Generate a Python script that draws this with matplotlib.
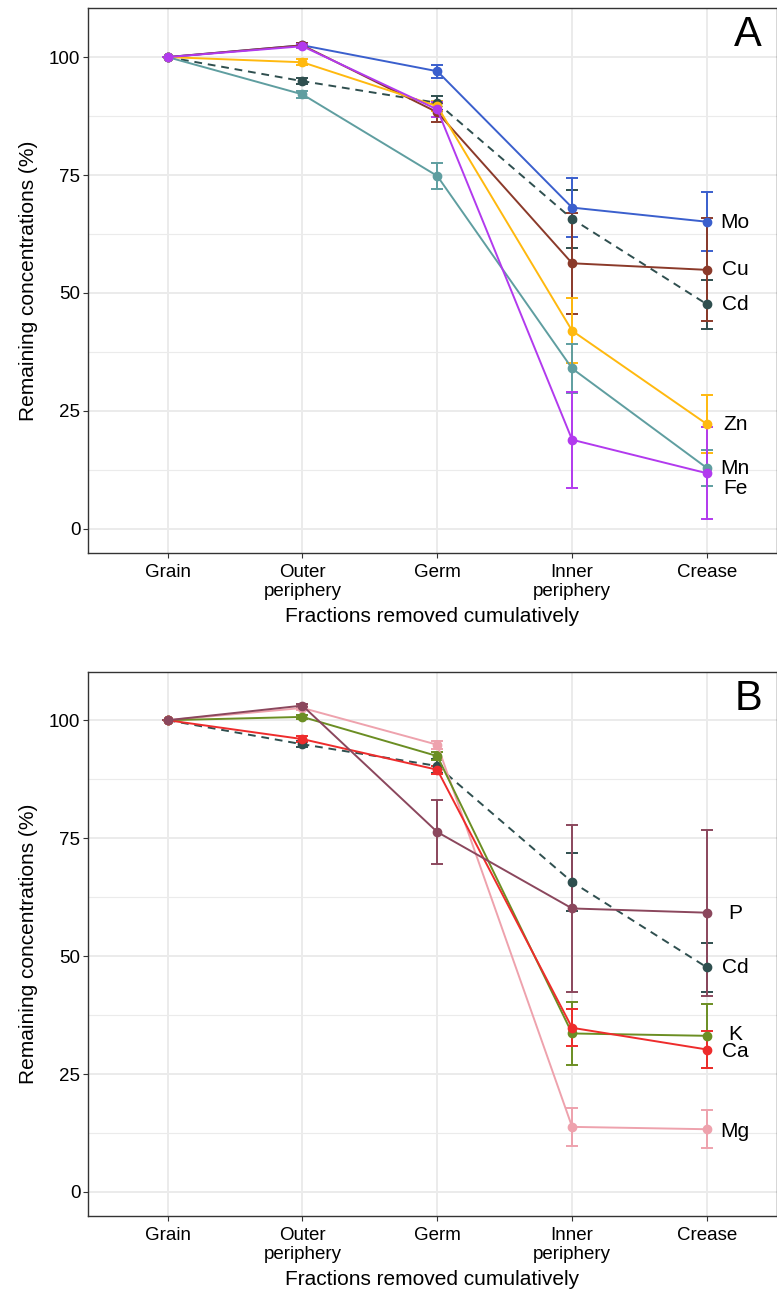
import numpy as np
import matplotlib.pyplot as plt

plt.rcParams['font.family'] = ['Liberation Sans', 'DejaVu Sans']

# Fractions (x categories)
fractions = ["Grain", "Outer\nperiphery", "Germ", "Inner\nperiphery", "Crease"]

# Panel A: micro elements (mean, error)
cd_mean = [100, 94.9, 90.3, 65.7, 47.6]
cd_err = [0, 0.6, 1.5, 6.1, 5.2]

mo_mean = [100, 102.5, 97.0, 68.1, 65.1]
mo_err = [0, 0.4, 1.4, 6.3, 6.2]
cu_mean = [100, 102.5, 88.3, 56.3, 54.9]
cu_err = [0, 0.4, 2.0, 10.7, 10.9]
zn_mean = [100, 98.9, 89.6, 42.0, 22.2]
zn_err = [0, 0.6, 1.0, 6.9, 6.2]
mn_mean = [100, 92.1, 74.8, 34.0, 12.9]
mn_err = [0, 0.8, 2.8, 5.1, 3.9]
fe_mean = [100, 102.3, 88.9, 18.9, 11.8]
fe_err = [0, 0.4, 1.5, 10.2, 9.7]

# Panel B: macro elements
p_mean = [100, 103.1, 76.3, 60.1, 59.2]
p_err = [0, 0.4, 6.8, 17.7, 17.6]
mg_mean = [100, 102.6, 94.8, 13.8, 13.3]
mg_err = [0, 0.4, 0.8, 4.0, 4.0]
k_mean = [100, 100.7, 92.4, 33.6, 33.1]
k_err = [0, 0.4, 0.8, 6.7, 6.8]
ca_mean = [100, 96.0, 89.5, 34.8, 30.2]
ca_err = [0, 0.7, 0.8, 3.9, 3.9]

# label y positions next to the crease points
labels_a = ["Mo", "Cu", "Cd", "Zn", "Mn", "Fe"]
labels_a_y = [65.0, 54.9, 47.5, 22.2, 12.7, 8.5]
labels_b = ["P", "Cd", "K", "Ca", "Mg"]
labels_b_y = [59.1, 47.5, 33.4, 29.8, 12.9]

colors = {
    "Cd": "#2F4F4F", "Mo": "#3A5FCD", "Cu": "#8B3A2A", "Zn": "#FFB90F",
    "Mn": "#5F9EA0", "Fe": "#B23AEE", "P": "#8B475D", "Mg": "#EEA2AD",
    "K": "#6B8E23", "Ca": "#EE2C2C",
}

series_a = [("Cd", cd_mean, cd_err), ("Mo", mo_mean, mo_err), ("Cu", cu_mean, cu_err),
            ("Zn", zn_mean, zn_err), ("Mn", mn_mean, mn_err), ("Fe", fe_mean, fe_err)]
series_b = [("Cd", cd_mean, cd_err), ("Mg", mg_mean, mg_err), ("K", k_mean, k_err),
            ("Ca", ca_mean, ca_err), ("P", p_mean, p_err)]

x = np.arange(1, len(fractions) + 1)

fig = plt.figure(figsize=(7.77, 12.92), dpi=100)
ax_a = fig.add_axes([0.1133, 0.572, 0.8868, 0.4218])
ax_b = fig.add_axes([0.1133, 0.0588, 0.8868, 0.421])


def draw_panel(ax, series, labels, labels_y, letter, ylim):
    for name, m, e in series:
        ls = (0, (4, 3)) if name == "Cd" else "-"
        ax.errorbar(x, m, yerr=e, color=colors[name], linestyle=ls, linewidth=1.4,
                    marker="o", markersize=6, capsize=4, elinewidth=1.4,
                    capthick=1.4, zorder=3)
    for lab, ly in zip(labels, labels_y):
        ax.text(5.21, ly, lab, ha="center", va="center", fontsize=15, color="black")
    ax.text(0.958, 0.95, letter, transform=ax.transAxes, ha="center", va="center",
            fontsize=30)

    ax.set_xlim(0.41, 5.52)
    ax.set_ylim(*ylim)
    ax.set_xticks(x)
    ax.set_xticklabels(fractions, fontsize=13.5, linespacing=1.15)
    ax.set_yticks([0, 25, 50, 75, 100])
    ax.set_yticks([12.5, 37.5, 62.5, 87.5], minor=True)
    ax.tick_params(axis="y", labelsize=13.5)
    ax.tick_params(which="minor", length=0)
    ax.tick_params(which="major", length=3.5, pad=2, color="#333333", width=0.8)
    ax.tick_params(axis="x", pad=4.5)
    ax.grid(True, which="major", color="#EBEBEB", linewidth=1.4, zorder=0)
    ax.grid(True, which="minor", axis="y", color="#EBEBEB", linewidth=0.8, zorder=0)
    ax.set_axisbelow(True)
    for sp in ax.spines.values():
        sp.set_color("#333333")
        sp.set_linewidth(1.0)
    ax.set_xlabel("Fractions removed cumulatively", fontsize=15, labelpad=5)
    ax.set_ylabel("Remaining concentrations (%)", fontsize=15, labelpad=8)


draw_panel(ax_a, series_a, labels_a, labels_a_y, "A", (-5.1, 110.4))
draw_panel(ax_b, series_b, labels_b, labels_b_y, "B", (-5.1, 110.2))

fig.savefig("out.png", dpi=100)
